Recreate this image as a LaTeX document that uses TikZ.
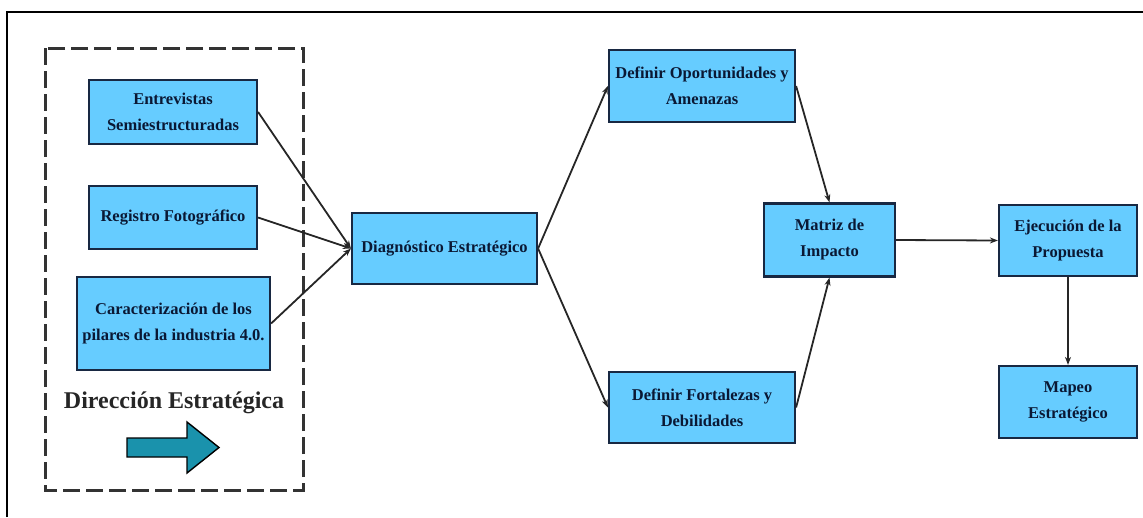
\documentclass[tikz,border=0pt]{standalone}
\usepackage{fontspec}
\setmainfont{Liberation Serif}
\usepackage{xcolor}
\usepackage{tikz}
\usetikzlibrary{arrows.meta, positioning}
\definecolor{boxfill}{RGB}{102, 204, 255}
\definecolor{boxline}{RGB}{24, 40, 66}
\definecolor{boxtext}{RGB}{10, 24, 52}
\definecolor{arrowteal}{RGB}{26, 146, 172}
\tikzstyle{stepbox} = [rectangle, draw=boxline, fill=boxfill, line width=2.2pt, align=center, text=boxtext, font=\fontsize{16.5}{26}\selectfont\bfseries, inner sep=0pt]
\tikzstyle{link} = [line width=1.8pt, draw=black!85, -{Stealth[length=8pt,width=6pt]}]

\begin{document}
\begin{tikzpicture}[x=1pt, y=-1pt]
\useasboundingbox (0,0) rectangle (1143,517);

% outer frame (only top and left show)
\draw[line width=2.5pt, black] (7,517) -- (7,12) -- (1143,12);

% Direccion Estrategica group
\draw[line width=3pt, black!80, dash pattern=on 17pt off 6pt] (45,48) rectangle (303,490);

\node[stepbox, minimum width=168pt, minimum height=64pt] (entrevistas) at (173,112) {Entrevistas\\Semiestructuradas};
\node[stepbox, minimum width=168pt, minimum height=63pt] (registro) at (173,217.5) {Registro Fotográfico};
\node[stepbox, minimum width=193pt, minimum height=93pt] (caracterizacion) at (173.5,323.5) {Caracterización de los\\pilares de la industria 4.0.};

\node[font=\fontsize{24}{28}\selectfont\bfseries, text=black!85, inner sep=0pt] (direccion) at (174,403) {Dirección Estratégica};

\draw[line width=1.4pt, draw=black, fill=arrowteal]
  (127,438) -- (187,438) -- (187,422) -- (219,447.5) -- (187,473) -- (187,457) -- (127,457) -- cycle;

% diagnostico and branches
\node[stepbox, minimum width=185pt, minimum height=71pt] (diagnostico) at (444.5,248.5) {Diagnóstico Estratégico};
\node[stepbox, minimum width=186pt, minimum height=72pt] (oportunidades) at (702,86) {Definir Oportunidades y\\Amenazas};
\node[stepbox, minimum width=186pt, minimum height=71pt] (fortalezas) at (702,407.5) {Definir Fortalezas y\\Debilidades};
\node[stepbox, minimum width=131pt, minimum height=73pt] (matriz) at (829.5,240) {Matriz de\\Impacto};
\node[stepbox, minimum width=138pt, minimum height=71pt] (ejecucion) at (1068,240.5) {Ejecución de la\\Propuesta};
\node[stepbox, minimum width=138pt, minimum height=72pt] (mapeo) at (1068,402) {Mapeo\\Estratégico};

\draw[link] (entrevistas.east) -- (diagnostico.west);
\draw[link] (registro.east) -- (diagnostico.west);
\draw[link] (caracterizacion.east) -- (diagnostico.west);
\draw[link] (diagnostico.east) -- (oportunidades.west);
\draw[link] (diagnostico.east) -- (fortalezas.west);
\draw[link] (oportunidades.east) -- (matriz.north);
\draw[link] (fortalezas.east) -- (matriz.south);
\draw[link] (matriz.east) -- (ejecucion.west);
\draw[link] (ejecucion.south) -- (mapeo.north);
\end{tikzpicture}
\end{document}
